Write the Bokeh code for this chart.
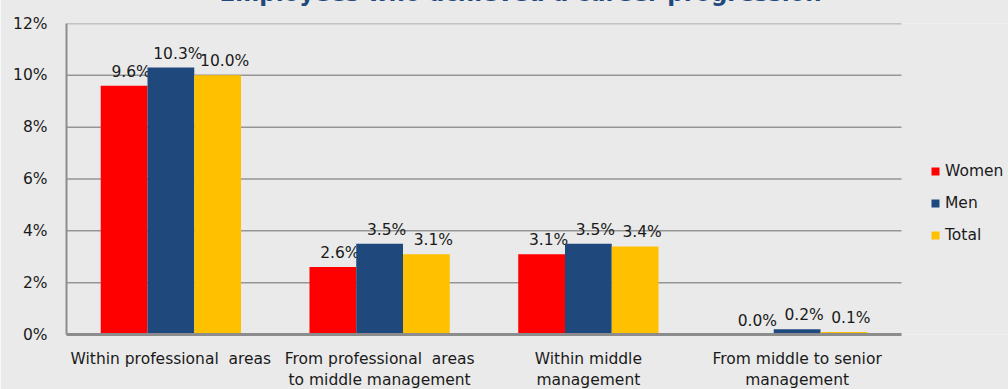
from bokeh.plotting import figure
from bokeh.models import (Range1d, ColumnDataSource, Legend, LegendItem, FixedTicker)
from bokeh.embed import file_html
from bokeh.resources import INLINE
from bokeh.core.properties import value

categories = ["Within professional\u00a0 areas",
              "From professional\u00a0 areas\nto middle management",
              "Within middle\nmanagement",
              "From middle to senior\nmanagement"]
women = [9.6, 2.6, 3.1, 0.0]
men = [10.3, 3.5, 3.5, 0.2]
total = [10.0, 3.1, 3.4, 0.1]
series_names = ["Women", "Men", "Total"]
series_colors = ["#FF0000", "#1F497D", "#FFC000"]
y_ticks = [0, 2, 4, 6, 8, 10, 12]
title_text = "Employees who achieved a career progression"

FONT = "DejaVu Sans"
BG = "#EAEAEA"
SHIFT = 55  # part of the canvas hidden above the window (title is cut off there)

n = len(categories)
centers = [i + 0.5 for i in range(n)]
bw = 0.224
offsets = [-bw, 0.0, bw]
series_vals = [women, men, total]

p = figure(width=1008, height=SHIFT + 392,
           x_range=Range1d(0, n + 107 / 208.75),  # right part of the plot area holds the legend
           y_range=Range1d(0, 12), output_backend="svg", toolbar_location=None,
           min_border_left=66, min_border_right=0, min_border_top=23 + SHIFT,
           min_border_bottom=58)
p.styles = {"margin-top": f"-{SHIFT}px"}
p.background_fill_color = BG
p.border_fill_color = BG
p.outline_line_color = None

p.title.text = title_text
p.title.text_font = FONT
p.title.text_font_style = "bold"
p.title.text_font_size = "23px"
p.title.text_color = "#1F497D"
p.title.align = "left"
p.title.offset = 153
p.title.standoff = 35
p.title.vertical_align = "bottom"

# horizontal grid lines spanning only the category area
p.segment(x0=[0] * len(y_ticks), x1=[n] * len(y_ticks), y0=y_ticks, y1=y_ticks,
          line_color="#959595", line_width=1.5)

renderers = []
for name, col, off, vals in zip(series_names, series_colors, offsets, series_vals):
    xs = [c + off for c in centers]
    src = ColumnDataSource(dict(x=xs, top=vals, lab=[f"{v:.1f}%" for v in vals]))
    r = p.vbar(x="x", top="top", width=bw, source=src, fill_color=col, line_color=None)
    renderers.append(r)
    p.text(x="x", y="top", text="lab", source=src,
           x_offset=7, y_offset=-5, text_align="center", text_baseline="bottom",
           text_font=value(FONT), text_font_size="15.5px", text_color="#1a1a1a")

# axes
ya = p.left[0]
ya.ticker = FixedTicker(ticks=y_ticks)
ya.major_label_overrides = {t: f"{t}%" for t in y_ticks}
ya.major_tick_line_color = None
ya.minor_tick_line_color = None
ya.axis_line_color = "#8C8C8C"
ya.axis_line_width = 2
ya.major_label_standoff = 13
ya.major_label_text_font = FONT
ya.major_label_text_font_size = "15.5px"
ya.major_label_text_color = "#1a1a1a"

xa = p.below[0]
xa.ticker = FixedTicker(ticks=centers)
xa.major_label_overrides = {c: lab for c, lab in zip(centers, categories)}
xa.bounds = (0, n)
xa.major_tick_line_color = None
xa.minor_tick_line_color = None
xa.axis_line_color = "#8C8C8C"
xa.axis_line_width = 3
xa.major_label_standoff = 9
xa.major_label_text_font = FONT
xa.major_label_text_font_size = "15.5px"
xa.major_label_text_color = "#1a1a1a"
xa.major_label_orientation = "horizontal"

p.xgrid.grid_line_color = None
p.ygrid.grid_line_color = None

legend = Legend(items=[LegendItem(label=s, renderers=[r]) for s, r in zip(series_names, renderers)],
                location=(864, 90), orientation="vertical",
                glyph_width=10, glyph_height=10, label_standoff=5, spacing=14,
                label_text_font=FONT, label_text_font_size="15.5px", label_text_color="#1a1a1a",
                background_fill_alpha=0, border_line_color=None, padding=0, margin=0)
p.add_layout(legend, "center")

open("out.html", "w").write(file_html(p, INLINE))
